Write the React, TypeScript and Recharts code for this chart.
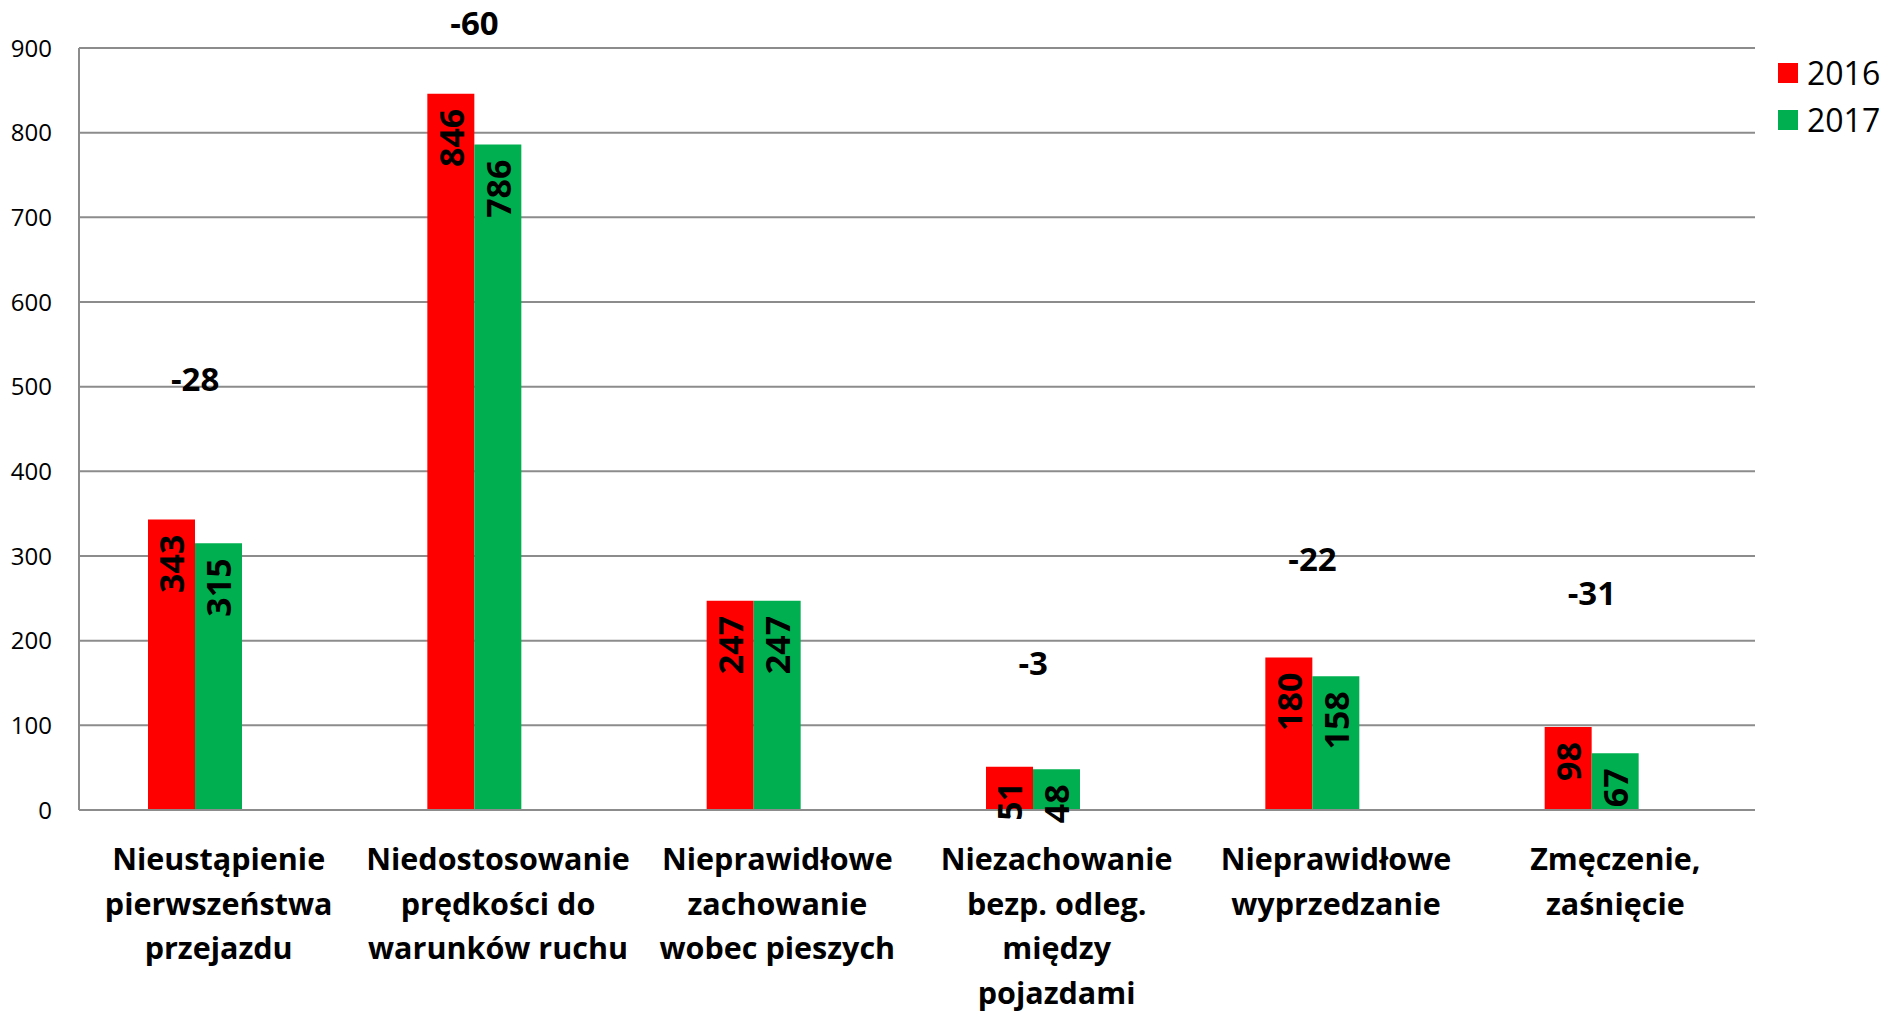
import { ComposedChart, Bar, XAxis, YAxis, CartesianGrid, Legend, LabelList, ReferenceDot } from 'recharts';

const categories = [
    'Nieustąpienie\npierwszeństwa\nprzejazdu',
    'Niedostosowanie\nprędkości do\nwarunków ruchu',
    'Nieprawidłowe\nzachowanie\nwobec pieszych',
    'Niezachowanie\nbezp. odleg.\nmiędzy\npojazdami',
    'Nieprawidłowe\nwyprzedzanie',
    'Zmęczenie,\nzaśnięcie',
];
const values2016 = [343, 846, 247, 51, 180, 98];
const values2017 = [315, 786, 247, 48, 158, 67];
// height (in axis units) at which each change label sits in the picture
const changeLabelAt = [507, 928, 0, 172, 295, 255];
const yTicks = [0, 100, 200, 300, 400, 500, 600, 700, 800, 900];

const data = categories.map((name, i) => ({
    name,
    y2016: values2016[i],
    y2017: values2017[i],
    change: values2017[i] - values2016[i],
    changeAt: changeLabelAt[i],
}));

const FONT = "'Open Sans', sans-serif";
const BAR = 47;
const GRID = '#8c8c8c';

const ValueLabel = (props: any) => {
    const { x, y, width, value } = props;
    const cx = x + width / 2;
    const ty = y + 15;
    return (
        <text
            x={cx}
            y={ty}
            transform={`rotate(-90, ${cx}, ${ty})`}
            textAnchor="end"
            dominantBaseline="central"
            fontFamily={FONT}
            fontWeight="bold"
            fontSize={34}
            fill="#000"
        >
            {value}
        </text>
    );
};

const CategoryTick = (props: any) => {
    const { x, y, payload } = props;
    const lines = String(payload.value).split('\n');
    return (
        <g>
            {lines.map((line, i) => (
                <text
                    key={i}
                    x={x}
                    y={y + 48 + i * 44.5}
                    textAnchor="middle"
                    dominantBaseline="central"
                    fontFamily={FONT}
                    fontWeight="bold"
                    fontSize={30.5}
                    fill="#000"
                >
                    {line}
                </text>
            ))}
        </g>
    );
};

const renderLegend = (props: any) => (
    <div style={{ fontFamily: FONT, fontSize: 32, lineHeight: 1 }}>
        {(props.payload || [])
            .filter((entry: any) => entry.type !== 'none')
            .map((entry: any) => (
                <div key={entry.value} style={{ display: 'flex', alignItems: 'center', height: 47 }}>
                    <span style={{ flexShrink: 0, width: 20, height: 20, background: entry.color, marginRight: 9 }} />
                    <span style={{ color: '#000' }}>{entry.value}</span>
                </div>
            ))}
    </div>
);

const App = () => {
    return (
        <div style={{ width: 1889, height: 1012, background: '#fff' }}>
            <style>{'body{margin:0}'}</style>
            <ComposedChart
                width={1889}
                height={1012}
                data={data}
                barGap={0}
                margin={{ top: 48, right: 134, bottom: 52, left: 0 }}
            >
                <CartesianGrid vertical={false} stroke={GRID} strokeWidth={2} />
                <XAxis
                    dataKey="name"
                    interval={0}
                    height={150}
                    tickLine={false}
                    tickSize={0}
                    tickMargin={0}
                    axisLine={{ stroke: GRID, strokeWidth: 2 }}
                    tick={<CategoryTick />}
                />
                <YAxis
                    width={79}
                    domain={[0, 900]}
                    ticks={yTicks}
                    interval={0}
                    tickLine={false}
                    tickSize={0}
                    tickMargin={27}
                    axisLine={{ stroke: GRID, strokeWidth: 2 }}
                    tick={{ fontFamily: FONT, fontSize: 24, fill: '#000' }}
                />
                <Legend
                    layout="horizontal"
                    verticalAlign="middle"
                    align="center"
                    content={renderLegend}
                    wrapperStyle={{ left: 1778, top: 49, width: 111, height: 94 }}
                />
                <Bar dataKey="y2016" name="2016" fill="#ff0000" barSize={BAR} isAnimationActive={false}>
                    <LabelList dataKey="y2016" content={<ValueLabel />} />
                </Bar>
                <Bar dataKey="y2017" name="2017" fill="#00b050" barSize={BAR} isAnimationActive={false}>
                    <LabelList dataKey="y2017" content={<ValueLabel />} />
                </Bar>
                <Bar dataKey={() => null} name="pad" fill="none" legendType="none" barSize={BAR} isAnimationActive={false} />
                {data
                    .filter((d) => d.change !== 0)
                    .map((d) => (
                        <ReferenceDot
                            key={d.name}
                            x={d.name}
                            y={d.changeAt}
                            ifOverflow="visible"
                            shape={(p: any) => (
                                <text
                                    x={p.cx - BAR / 2}
                                    y={p.cy - 2}
                                    textAnchor="middle"
                                    dominantBaseline="central"
                                    fontFamily={FONT}
                                    fontWeight="bold"
                                    fontSize={33}
                                    fill="#000"
                                >
                                    {d.change}
                                </text>
                            )}
                        />
                    ))}
            </ComposedChart>
        </div>
    );
};

export default App;
